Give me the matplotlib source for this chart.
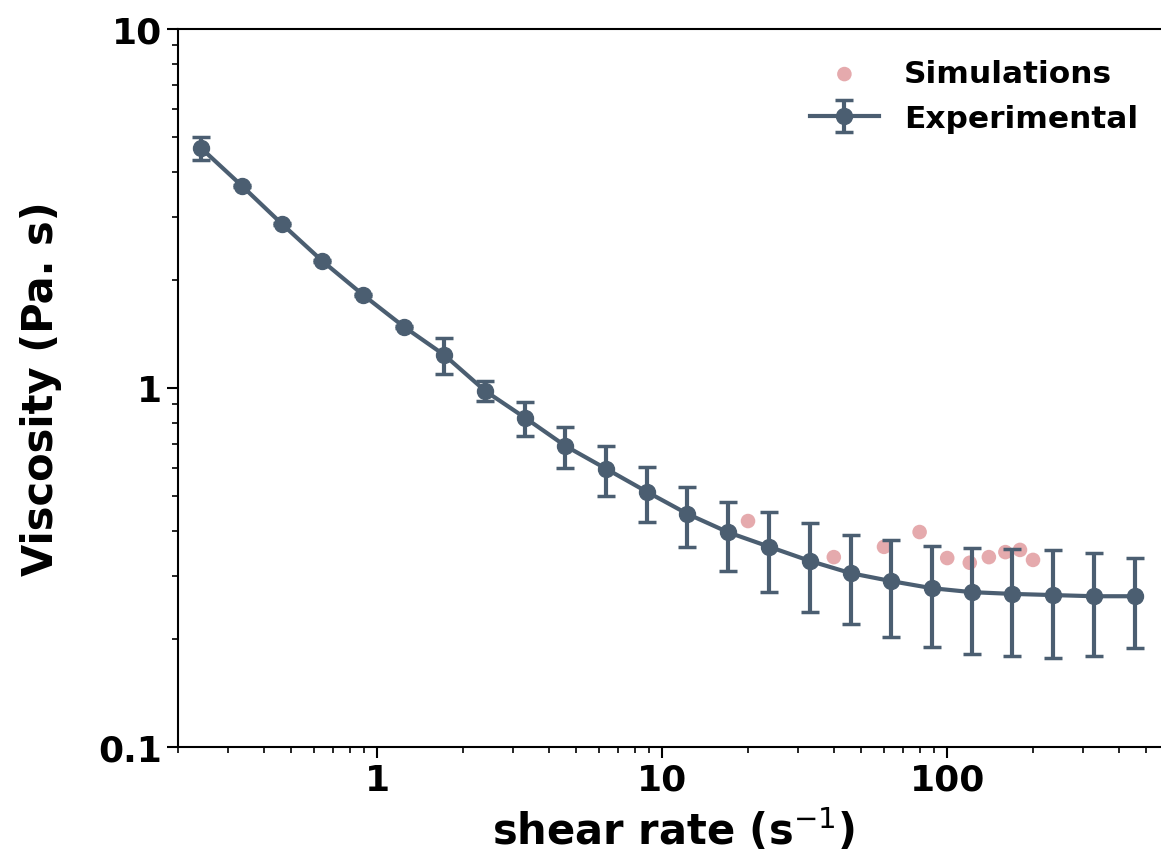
import matplotlib
matplotlib.use("Agg")
import matplotlib.pyplot as plt

# experimental flow curve
shear_rate = [0.241, 0.336, 0.464, 0.641, 0.893, 1.244, 1.719, 2.394, 3.31, 4.57,
              6.37, 8.87, 12.26, 17.08, 23.79, 32.9, 45.8, 63.3, 88.1, 121.8,
              168.3, 234.4, 326.6, 455.0]
viscosity = [4.66, 3.65, 2.86, 2.26, 1.816, 1.479, 1.236, 0.981, 0.825, 0.690,
             0.595, 0.513, 0.446, 0.396, 0.361, 0.330, 0.305, 0.290, 0.277, 0.270,
             0.267, 0.265, 0.263, 0.263]
visc_err = [0.35, 0.02, 0.015, 0.01, 0.01, 0.01, 0.139, 0.062, 0.092, 0.091,
            0.095, 0.090, 0.085, 0.086, 0.090, 0.092, 0.085, 0.087, 0.087, 0.088,
            0.088, 0.088, 0.084, 0.074]

# simulation points
sim_rate = [20, 40, 60, 80, 100, 120, 140, 160, 180, 200]
sim_visc = [0.426, 0.338, 0.361, 0.397, 0.336, 0.326, 0.338, 0.349, 0.354, 0.332]

line_col = "#4b5e71"
pink = "#e5aaad"

fig = plt.figure(figsize=(11.61, 8.54), dpi=100)
ax = fig.add_axes([178 / 1161, 1 - 748 / 854, (1169 - 178) / 1161, (748 - 30) / 854])

ax.scatter(sim_rate, sim_visc, s=110, color=pink, edgecolor="none", label="Simulations", zorder=1)
ax.errorbar(shear_rate, viscosity, yerr=visc_err, color=line_col, lw=3, marker="o", ms=11.5,
            elinewidth=3, capsize=6.5, capthick=2.5, label="Experimental", zorder=2)

ax.set_xscale("log")
ax.set_yscale("log")
ax.set_xlim(0.2, 600)
ax.set_ylim(0.1, 10)
ax.set_yticks([0.1, 1, 10])
ax.set_yticklabels(["0.1", "1", "10"])
ax.set_xticks([1, 10, 100])
ax.set_xticklabels(["1", "10", "100"])

ax.spines["right"].set_visible(False)
for s in ax.spines.values():
    s.set_linewidth(1.5)
ax.tick_params(which="major", length=8, width=1.5, labelsize=26)
ax.tick_params(which="minor", length=4, width=1.2)
for lab in ax.get_xticklabels() + ax.get_yticklabels():
    lab.set_fontweight("bold")

ax.set_xlabel("shear rate (s$^{-1}$)", fontsize=30, fontweight="bold", labelpad=7)
ax.set_ylabel("Viscosity (Pa. s)", fontsize=30, fontweight="bold", labelpad=26)

ax.legend(loc="upper right", frameon=False, prop={"size": 22.5, "weight": "bold"},
          handlelength=2.2, bbox_to_anchor=(0.997, 0.997))

fig.savefig("out.png", dpi=100)
